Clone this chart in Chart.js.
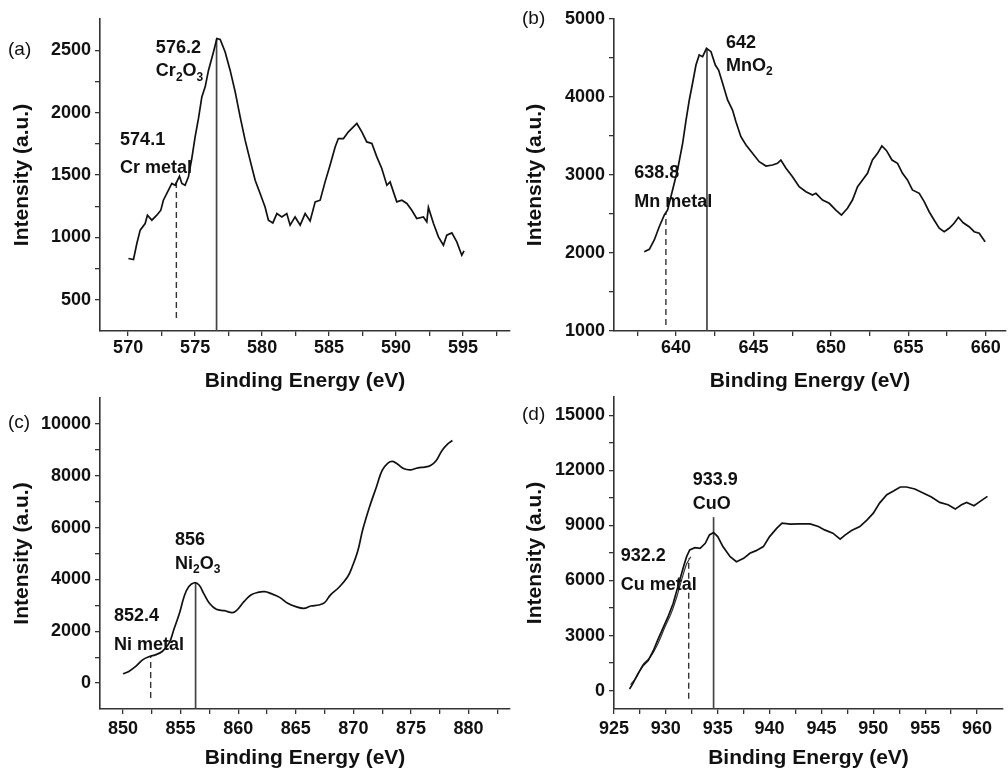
<!DOCTYPE html>
<html>
<head>
<meta charset="utf-8">
<script src="https://cdn.jsdelivr.net/npm/chart.js@4/dist/chart.umd.min.js"></script>
<style>
  body { margin: 0; background: #fff; }
  #fig { position: relative; width: 1008px; height: 770px; overflow: hidden; }
  #fig canvas { position: absolute; }
</style>
</head>
<body>
<div id="fig">
  <canvas id="pa" width="514" height="393" style="left:0;top:0"></canvas>
  <canvas id="pb" width="508" height="393" style="left:500px;top:0"></canvas>
  <canvas id="pc" width="514" height="390" style="left:0;top:380px"></canvas>
  <canvas id="pd" width="508" height="390" style="left:500px;top:380px"></canvas>
</div>
<script>
// XPS spectra, four panels (Cr 2p, Mn 2p, Ni 2p, Cu 2p)

// (a) Cr
const crEnergy = [570.02,570.40,570.65,570.90,571.27,571.44,571.77,572.14,572.44,572.63,573.01,573.26,573.51,573.83,574.01,574.25,574.50,574.75,575.00,575.25,575.50,575.75,576.00,576.37,576.62,576.87,577.24,577.61,577.99,578.36,578.73,579.10,579.48,579.85,580.22,580.47,580.80,581.10,581.47,581.84,582.09,582.46,582.84,583.21,583.58,583.96,584.33,584.70,585.07,585.45,585.69,586.07,586.44,586.81,587.07,587.44,587.81,588.19,588.56,588.93,589.31,589.55,590.05,590.43,590.80,591.17,591.54,592.04,592.29,592.41,592.79,593.16,593.53,593.78,594.16,594.53,594.90,595.07];
const crIntensity = [831,823,951,1058,1111,1178,1138,1178,1218,1298,1378,1432,1418,1490,1432,1418,1485,1632,1805,1953,2126,2206,2340,2486,2594,2586,2486,2340,2166,1966,1779,1619,1458,1352,1244,1138,1116,1191,1164,1191,1098,1164,1098,1191,1132,1285,1298,1445,1579,1725,1792,1792,1846,1886,1913,1846,1765,1752,1645,1552,1418,1445,1285,1298,1272,1218,1151,1164,1124,1240,1111,1004,937,1018,1036,964,857,892];
const crXTicks = [570, 575, 580, 585, 590, 595];
const crYTicks = [500, 1000, 1500, 2000, 2500];
const crMetal = { x: 573.6, top: 1457, bottom: 354 };
const crOxide = { x: 576.6, top: 2588, bottom: 250 };

// (b) Mn
const mnEnergy = [637.95,638.28,638.60,638.92,639.25,639.46,639.78,640.10,640.43,640.65,640.86,641.07,641.29,641.50,641.72,641.97,642.26,642.54,642.75,643.01,643.33,643.65,643.87,644.19,644.52,644.94,645.37,645.81,646.23,646.55,646.77,647.10,647.52,647.95,648.39,648.81,649.03,649.46,649.89,650.32,650.68,651.07,651.39,651.72,652.04,652.36,652.68,653.01,653.29,653.59,653.94,654.30,654.62,654.94,655.26,655.70,656.02,656.34,656.66,656.99,657.31,657.63,657.95,658.23,658.54,658.92,659.25,659.57,659.95];
const mnIntensity = [2017,2047,2167,2337,2487,2551,2808,3064,3406,3705,3962,4176,4410,4538,4517,4624,4581,4410,4346,4176,3962,3833,3684,3491,3385,3278,3171,3115,3128,3150,3192,3086,2978,2850,2786,2744,2765,2679,2637,2551,2487,2573,2679,2850,2936,3022,3192,3278,3372,3312,3192,3150,3022,2936,2808,2765,2658,2529,2423,2317,2273,2317,2381,2458,2388,2337,2273,2253,2145];
const mnXTicks = [640, 645, 650, 655, 660];
const mnYTicks = [1000, 2000, 3000, 4000, 5000];
const mnMetal = { x: 639.35, top: 2513, bottom: 1077 };
const mnOxide = { x: 642.0, top: 4603, bottom: 1000 };

// (c) Ni
const niEnergy = [850.0,850.5,851.1,851.7,852.3,852.8,853.4,854.0,854.4,854.9,855.3,855.7,856.2,856.6,857.0,857.5,858.1,858.8,859.5,859.9,860.5,861.1,861.7,862.3,862.8,863.6,864.3,865.0,865.7,866.3,867.0,867.5,868.0,868.8,869.5,869.9,870.4,870.8,871.4,872.0,872.5,873.0,873.4,873.8,874.4,875.0,875.6,876.2,876.7,877.2,877.7,878.2,878.6];
const niIntensity = [359,449,641,897,1026,1090,1218,1538,2051,2692,3333,3718,3872,3782,3461,3077,2846,2795,2718,2820,3141,3397,3500,3526,3461,3307,3077,2949,2885,2974,3013,3102,3397,3718,4102,4487,5128,5897,6795,7564,8205,8487,8551,8461,8269,8230,8307,8333,8397,8589,8974,9230,9358];
const niXTicks = [850, 855, 860, 865, 870, 875, 880];
const niYTicks = [0, 2000, 4000, 6000, 8000, 10000];
const niMetal = { x: 852.4, top: 1023, bottom: -577 };
const niOxide = { x: 856.3, top: 3885, bottom: -1000 };

// (d) Cu (two overlapping scans at the low-energy edge)
const cuEnergy = [926.5,926.8,927.3,927.8,928.3,928.8,929.2,929.7,930.2,930.7,931.2,931.7,932.0,932.3,932.8,933.3,933.8,934.2,934.6,935.0,935.5,936.2,936.8,937.5,938.1,938.7,939.4,940.0,940.7,941.2,942.0,942.9,943.9,944.7,945.3,946.1,946.8,947.3,947.9,948.7,949.4,950.0,950.6,951.3,951.9,952.6,953.2,954.0,954.8,955.6,956.4,957.2,957.9,958.5,959.0,959.7,960.3,961.0];
const cuIntensity = [91,365,912,1369,1642,2190,2737,3376,4015,4745,5749,6752,7300,7665,7793,7756,8030,8486,8614,8395,7848,7300,7026,7209,7483,7629,7848,8395,8851,9125,9070,9089,9089,8943,8760,8578,8249,8486,8723,8943,9308,9673,10220,10676,10859,11096,11096,10987,10768,10549,10257,10129,9892,10129,10257,10074,10311,10585];
const cu2Energy = [926.6,927.2,927.8,928.5,929.2,929.9,930.5,931.1,931.6,932.0,932.4];
const cu2Intensity = [330,760,1420,1830,2520,3450,4200,5200,6200,6900,7300];
const cuXTicks = [925, 930, 935, 940, 945, 950, 955, 960];
const cuYTicks = [0, 3000, 6000, 9000, 12000, 15000];
const cuMetal = { x: 932.2, top: 7208, bottom: -440 };
const cuOxide = { x: 934.6, top: 9452, bottom: -1000 };

const FONT = 'Arial, "Liberation Sans", sans-serif';
const INK = '#111';

// midpoints between major ticks become unlabeled minor ticks
function withMinors(majors, lo, hi) {
  const step = majors[1] - majors[0];
  const out = [];
  for (let i = -1; i < majors.length; i++) {
    const m = majors[0] + (i + 0.5) * step;
    if (m > lo && m < hi) out.push(m);
  }
  return majors.concat(out).sort((a, b) => a - b);
}

// draws panel letter and the peak labels (with subscripts after "_")
const notesPlugin = {
  id: 'notes',
  afterDraw(chart, args, opts) {
    const ctx = chart.ctx;
    const xs = chart.scales.x, ys = chart.scales.y;
    ctx.save();
    ctx.fillStyle = INK;
    ctx.textBaseline = 'middle';
    ctx.textAlign = 'left';
    ctx.font = '19px ' + FONT;
    ctx.fillText(opts.panel, opts.panelAt[0], opts.panelAt[1]);
    opts.labels.forEach(l => {
      let px = xs.getPixelForValue(l.x);
      const py = ys.getPixelForValue(l.y);
      const parts = l.text.split(/(_.)/).filter(Boolean);
      parts.forEach(p => {
        const sub = p[0] === '_';
        const t = sub ? p.slice(1) : p;
        ctx.font = (sub ? 'bold 12px ' : 'bold 18px ') + FONT;
        ctx.fillText(t, px, sub ? py + 6 : py);
        px += ctx.measureText(t).width;
      });
    });
    ctx.restore();
  }
};

function makePanel(id, p) {
  const lines = [{
    data: p.energy.map((e, i) => ({ x: e, y: p.intensity[i] })),
    borderColor: INK, borderWidth: 1.7, tension: p.smooth ? 0.4 : 0
  }];
  if (p.energy2) {
    lines.push({
      data: p.energy2.map((e, i) => ({ x: e, y: p.intensity2[i] })),
      borderColor: '#333', borderWidth: 1.2, tension: 0.3
    });
  }
  lines.push({
    data: [{ x: p.metal.x, y: p.metal.bottom }, { x: p.metal.x, y: p.metal.top }],
    borderColor: '#333', borderWidth: 1.4, borderDash: [6, 4]
  });
  lines.push({
    data: [{ x: p.oxide.x, y: p.oxide.bottom }, { x: p.oxide.x, y: p.oxide.top }],
    borderColor: '#444', borderWidth: 1.7
  });

  const xTicks = withMinors(p.xTicks, p.xMin, p.xMax);
  const yTicks = withMinors(p.yTicks, p.yMin, p.yMax);

  new Chart(document.getElementById(id), {
    type: 'line',
    data: { datasets: lines.map(d => Object.assign({ pointRadius: 0, fill: false }, d)) },
    plugins: [notesPlugin],
    options: {
      responsive: false,
      animation: false,
      layout: { padding: p.padding },
      plugins: {
        legend: { display: false },
        tooltip: { enabled: false },
        notes: { panel: p.panel, panelAt: p.panelAt, labels: p.labels }
      },
      scales: {
        x: {
          type: 'linear', bounds: 'data', min: p.xMin, max: p.xMax,
          afterBuildTicks: s => { s.ticks = xTicks.map(v => ({ value: v })); },
          afterFit: s => { s.height = p.xHeight; },
          ticks: {
            autoSkip: false, maxRotation: 0, padding: p.xPad, color: INK,
            font: { family: FONT, size: 18, weight: 'bold', lineHeight: 1.2 },
            callback: v => p.xTicks.includes(v) ? String(v) : ''
          },
          grid: { drawOnChartArea: false, drawTicks: true, tickLength: 5, color: '#333', lineWidth: 1.3 },
          border: { color: '#333', width: 1.6 },
          title: {
            display: true, text: 'Binding Energy (eV)', color: INK,
            font: { family: FONT, size: 21, weight: 'bold', lineHeight: 1 },
            padding: { top: 0, bottom: 1.5 }
          }
        },
        y: {
          type: 'linear', bounds: 'data', min: p.yMin, max: p.yMax,
          afterBuildTicks: s => { s.ticks = yTicks.map(v => ({ value: v })); },
          afterFit: s => { s.width = p.yWidth; },
          ticks: {
            autoSkip: false, padding: 4, color: INK,
            font: { family: FONT, size: 18, weight: 'bold' },
            callback: v => p.yTicks.includes(v) ? String(v) : ''
          },
          grid: { drawOnChartArea: false, drawTicks: true, tickLength: 5, color: '#333', lineWidth: 1.3 },
          border: { color: '#333', width: 1.6 },
          title: {
            display: true, text: 'Intensity (a.u.)', color: INK,
            font: { family: FONT, size: 21, weight: 'bold', lineHeight: 1 },
            padding: { top: p.yTitlePad, bottom: 0 }
          }
        }
      }
    }
  });
}

makePanel('pa', {
  energy: crEnergy, intensity: crIntensity, metal: crMetal, oxide: crOxide,
  xTicks: crXTicks, yTicks: crYTicks, xMin: 567.9, xMax: 598.5, yMin: 250, yMax: 2750,
  padding: { top: 19, right: 4, left: 0, bottom: 0 }, yWidth: 100, xHeight: 62, xPad: 1, yTitlePad: 11.5,
  panel: '(a)', panelAt: [8, 50],
  labels: [
    { x: 572.07, y: 2516, text: '576.2' }, { x: 572.07, y: 2330, text: 'Cr_2O_3' },
    { x: 569.4, y: 1779, text: '574.1' }, { x: 569.4, y: 1552, text: 'Cr metal' }
  ]
});

makePanel('pb', {
  energy: mnEnergy, intensity: mnIntensity, metal: mnMetal, oxide: mnOxide,
  xTicks: mnXTicks, yTicks: mnYTicks, xMin: 636, xMax: 661.3, yMin: 1000, yMax: 5000,
  padding: { top: 19, right: 2, left: 0, bottom: 0 }, yWidth: 114, xHeight: 62, xPad: 1, yTitlePad: 24.5,
  panel: '(b)', panelAt: [22, 19],
  labels: [
    { x: 643.23, y: 4688, text: '642' }, { x: 643.23, y: 4400, text: 'MnO_2' },
    { x: 637.31, y: 3022, text: '638.8' }, { x: 637.31, y: 2658, text: 'Mn metal' }
  ]
});

makePanel('pc', {
  energy: niEnergy, intensity: niIntensity, metal: niMetal, oxide: niOxide, smooth: true,
  xTicks: niXTicks, yTicks: niYTicks, xMin: 848, xMax: 883.6, yMin: -1000, yMax: 11000,
  padding: { top: 18, right: 4, left: 0, bottom: 0 }, yWidth: 100, xHeight: 61, xPad: 4, yTitlePad: 11.5,
  panel: '(c)', panelAt: [8, 43],
  labels: [
    { x: 854.52, y: 5522, text: '856' }, { x: 854.52, y: 4600, text: 'Ni_2O_3' },
    { x: 849.22, y: 2601, text: '852.4' }, { x: 849.22, y: 1471, text: 'Ni metal' }
  ]
});

makePanel('pd', {
  energy: cuEnergy, intensity: cuIntensity, energy2: cu2Energy, intensity2: cu2Intensity,
  metal: cuMetal, oxide: cuOxide,
  xTicks: cuXTicks, yTicks: cuYTicks, xMin: 925, xMax: 962.5, yMin: -1000, yMax: 16000,
  padding: { top: 17, right: 5, left: 0, bottom: 0 }, yWidth: 114, xHeight: 61, xPad: 4, yTitlePad: 24.5,
  panel: '(d)', panelAt: [22, 35],
  labels: [
    { x: 932.6, y: 11478, text: '933.9' }, { x: 932.6, y: 10170, text: 'CuO' },
    { x: 925.65, y: 7353, text: '932.2' }, { x: 925.65, y: 5757, text: 'Cu metal' }
  ]
});
</script>
</body>
</html>
